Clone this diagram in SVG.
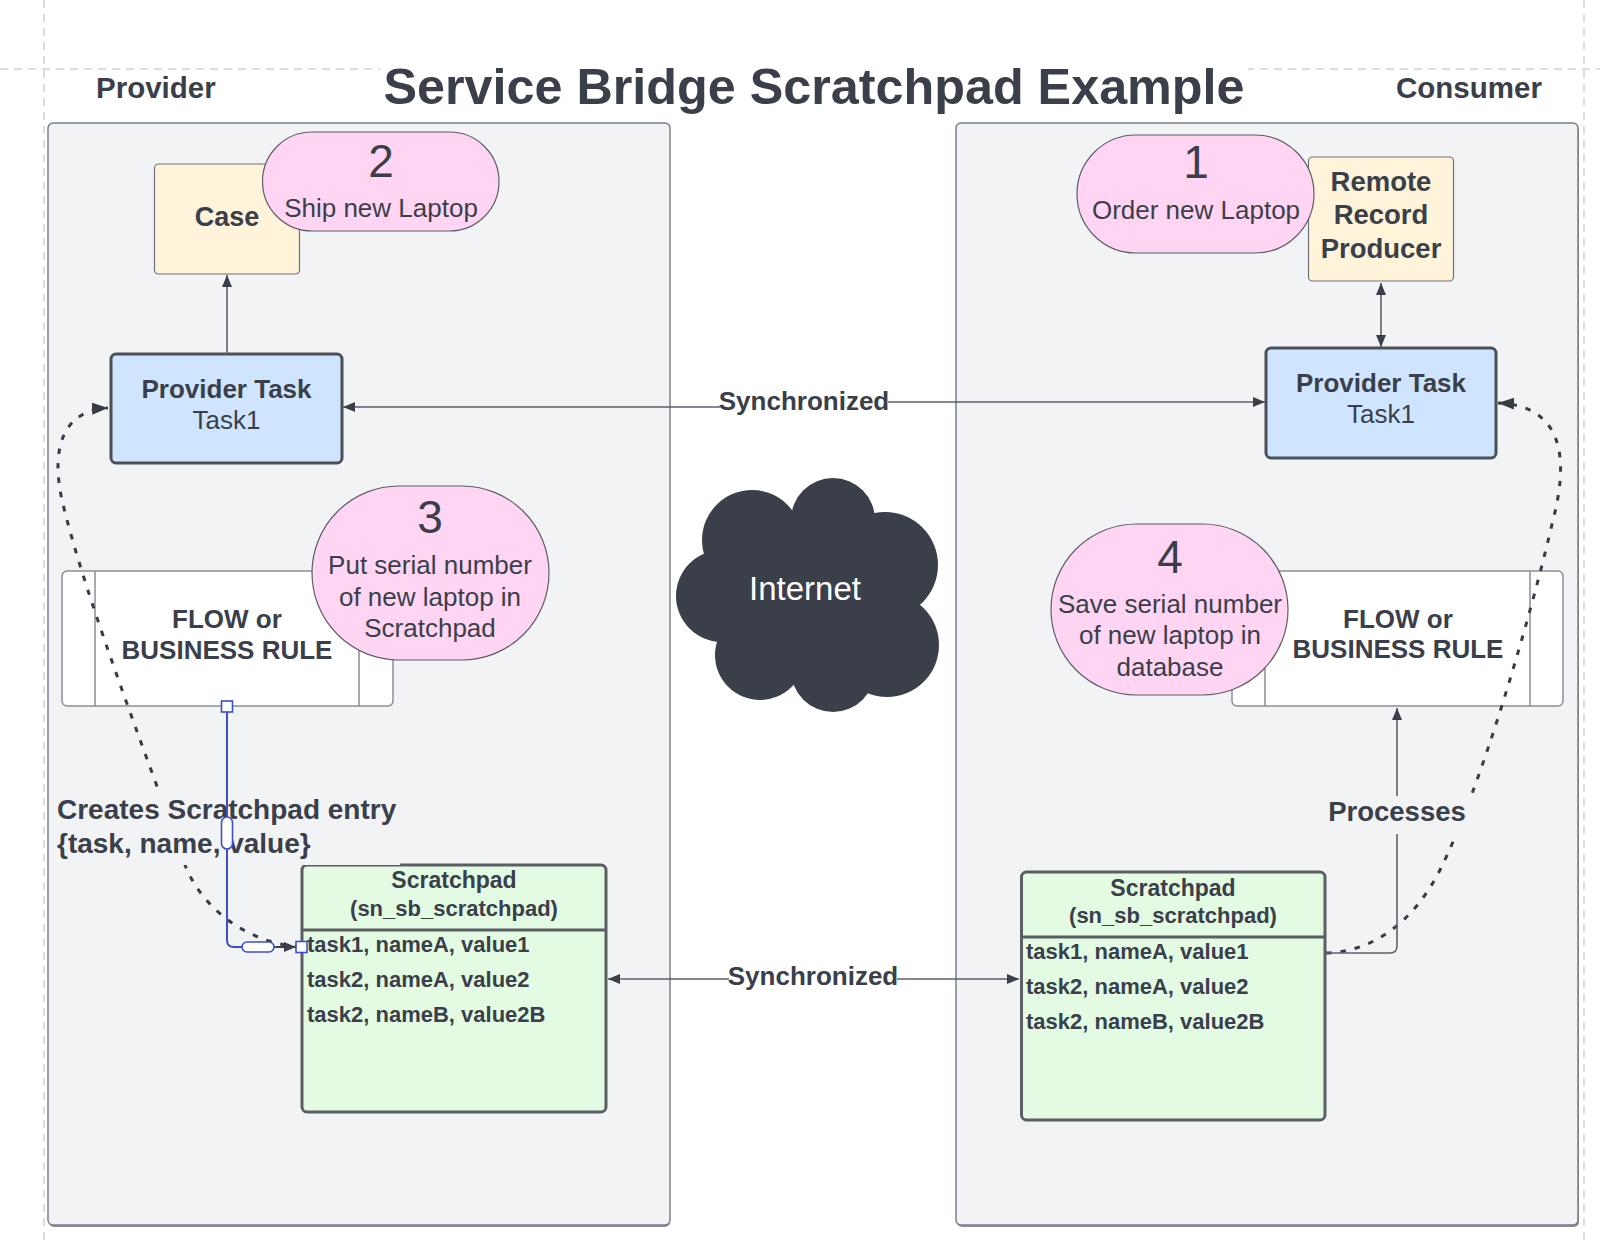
<svg xmlns="http://www.w3.org/2000/svg" width="1600" height="1242" viewBox="0 0 1600 1242">
<defs>
<style>
text{font-family:"Liberation Sans",Arial,sans-serif;fill:#3a3f4a}
.b{font-weight:bold}
.c{text-anchor:middle}
.guide{stroke:#d2d2d2;stroke-width:1.5;stroke-dasharray:8 6;fill:none}
.cont{fill:#f2f3f5;stroke:#7a7f88;stroke-width:1.5}
.cream{fill:#fff3d9;stroke:#6e727a;stroke-width:1.2}
.pink{fill:#ffd5f3;stroke:#5d5f68;stroke-width:1.2}
.task{fill:#cfe5ff;stroke:#4a4f58;stroke-width:3}
.flow{fill:#ffffff;stroke:#8a8e96;stroke-width:1.5}
.sp{fill:#e3fbe3;stroke:#5b5e63;stroke-width:3}
.conn{fill:none;stroke:#5c616b;stroke-width:1.6}
.dot{fill:none;stroke:#363b44;stroke-width:3;stroke-dasharray:5.5 9}
.blue{fill:none;stroke:#3d4fd0;stroke-width:2}
.handle{fill:#ffffff;stroke:#3d4fd0;stroke-width:1.6}
</style>
<marker id="arr" viewBox="0 0 12 10" refX="12" refY="5" markerWidth="12" markerHeight="10" markerUnits="userSpaceOnUse" orient="auto-start-reverse"><path d="M0,0 L12,5 L0,10 z" fill="#3a3f4a"/></marker>
<marker id="arrD" viewBox="0 0 16 12" refX="16" refY="6" markerWidth="16" markerHeight="12" markerUnits="userSpaceOnUse" orient="auto"><path d="M0,0 L16,6 L0,12 z" fill="#363b44"/></marker>
</defs>
<rect width="1600" height="1242" fill="#ffffff"/>
<g id="guides">
<line class="guide" x1="44" y1="0" x2="44" y2="1242"/>
<line class="guide" x1="1584" y1="0" x2="1584" y2="1242"/>
<line class="guide" x1="0" y1="69" x2="1600" y2="69"/>
</g>
<g id="title">
<rect x="380" y="58" width="868" height="54" fill="#ffffff"/>
<text class="b c" x="814" y="104" font-size="50.3">Service Bridge Scratchpad Example</text>
</g>
<g id="provider-container">
<rect x="49" y="125" width="621" height="1102" rx="5" fill="#8a8f99"/>
<rect class="cont" x="48" y="123" width="622" height="1102" rx="5"/>
<text class="b" x="96" y="98" font-size="29.5">Provider</text>
</g>
<g id="consumer-container">
<rect x="957" y="125" width="622" height="1102" rx="5" fill="#8a8f99"/>
<rect class="cont" x="956" y="123" width="622" height="1102" rx="5"/>
<text class="b" x="1396" y="98" font-size="29.5">Consumer</text>
</g>
<g id="internet">
<g fill="#3a3f4a">
<circle cx="833" cy="520" r="42"/>
<circle cx="752" cy="540" r="50"/>
<circle cx="885" cy="565" r="53"/>
<circle cx="722" cy="596" r="46"/>
<circle cx="760" cy="655" r="45"/>
<circle cx="833" cy="670" r="42"/>
<circle cx="887" cy="645" r="52"/>
<ellipse cx="810" cy="595" rx="95" ry="82"/>
</g>
<text class="c" x="805" y="600" font-size="33" style="fill:#ffffff">Internet</text>
</g>
<g id="case">
<rect class="cream" x="154.5" y="164" width="145" height="110" rx="4"/>
<text class="b c" x="227" y="226" font-size="27">Case</text>
</g>
<g id="step2">
<rect class="pink" x="262.5" y="132" width="236.5" height="99" rx="49.5"/>
<text class="c" x="381" y="177" font-size="46">2</text>
<text class="c" x="381" y="217" font-size="26">Ship new Laptop</text>
</g>
<g id="rrp">
<rect class="cream" x="1308.5" y="157" width="145" height="124" rx="4"/>
<text class="b c" x="1381" y="191" font-size="27.5">Remote</text>
<text class="b c" x="1381" y="224" font-size="27.5">Record</text>
<text class="b c" x="1381" y="258" font-size="27.5">Producer</text>
</g>
<g id="step1">
<rect class="pink" x="1077" y="135" width="237" height="118" rx="59"/>
<text class="c" x="1196" y="178" font-size="46">1</text>
<text class="c" x="1196" y="219" font-size="26">Order new Laptop</text>
</g>
<g id="provider-task-left">
<rect class="task" x="111" y="354" width="231" height="109" rx="5"/>
<text class="b c" x="226.5" y="398" font-size="26">Provider Task</text>
<text class="c" x="226.5" y="429" font-size="26">Task1</text>
</g>
<g id="provider-task-right">
<rect class="task" x="1266" y="348" width="230" height="110" rx="5"/>
<text class="b c" x="1381" y="392" font-size="26">Provider Task</text>
<text class="c" x="1381" y="423" font-size="26">Task1</text>
</g>
<g id="flow-left">
<rect class="flow" x="62" y="571" width="331" height="135" rx="5"/>
<line class="flow" x1="95" y1="571" x2="95" y2="706"/>
<line class="flow" x1="359" y1="571" x2="359" y2="706"/>
<text class="b c" x="227" y="628" font-size="26">FLOW or</text>
<text class="b c" x="227" y="659" font-size="26">BUSINESS RULE</text>
</g>
<g id="flow-right">
<rect class="flow" x="1232" y="571" width="331" height="135" rx="5"/>
<line class="flow" x1="1265" y1="571" x2="1265" y2="706"/>
<line class="flow" x1="1530" y1="571" x2="1530" y2="706"/>
<text class="b c" x="1398" y="628" font-size="26">FLOW or</text>
<text class="b c" x="1398" y="658" font-size="26">BUSINESS RULE</text>
</g>
<g id="step3">
<rect class="pink" x="312" y="486" width="237" height="174" rx="87"/>
<text class="c" x="430" y="533" font-size="46">3</text>
<text class="c" x="430" y="574" font-size="26">Put serial number</text>
<text class="c" x="430" y="606" font-size="26">of new laptop in</text>
<text class="c" x="430" y="637" font-size="26">Scratchpad</text>
</g>
<g id="step4">
<rect class="pink" x="1051" y="524" width="237" height="171" rx="85.5"/>
<text class="c" x="1170" y="573" font-size="46">4</text>
<text class="c" x="1170" y="613" font-size="26">Save serial number</text>
<text class="c" x="1170" y="644" font-size="26">of new laptop in</text>
<text class="c" x="1170" y="676" font-size="26">database</text>
</g>
<g id="scratchpad-left">
<rect class="sp" x="302" y="865" width="304" height="247" rx="5"/>
<line class="sp" x1="302" y1="930" x2="606" y2="930"/>
<text class="b c" x="454" y="888" font-size="23">Scratchpad</text>
<text class="b c" x="454" y="916" font-size="22">(sn_sb_scratchpad)</text>
<text class="b" x="307" y="952" font-size="22">task1, nameA, value1</text>
<text class="b" x="307" y="987" font-size="22">task2, nameA, value2</text>
<text class="b" x="307" y="1022" font-size="22">task2, nameB, value2B</text>
</g>
<g id="scratchpad-right">
<rect class="sp" x="1021.5" y="872" width="303.5" height="248" rx="5"/>
<line class="sp" x1="1021.5" y1="937" x2="1325" y2="937"/>
<text class="b c" x="1173" y="896" font-size="23">Scratchpad</text>
<text class="b c" x="1173" y="923" font-size="22">(sn_sb_scratchpad)</text>
<text class="b" x="1026" y="959" font-size="22">task1, nameA, value1</text>
<text class="b" x="1026" y="994" font-size="22">task2, nameA, value2</text>
<text class="b" x="1026" y="1029" font-size="22">task2, nameB, value2B</text>
</g>
<g id="connectors">
<line class="conn" x1="227" y1="354" x2="227" y2="275" marker-end="url(#arr)"/>
<line class="conn" x1="1381" y1="283" x2="1381" y2="347" marker-start="url(#arr)" marker-end="url(#arr)"/>
<line class="conn" x1="720" y1="407" x2="343" y2="407" marker-end="url(#arr)"/>
<line class="conn" x1="888" y1="402" x2="1265" y2="402" marker-end="url(#arr)"/>
<text class="b c" x="804" y="410" font-size="26">Synchronized</text>
<line class="conn" x1="729" y1="979" x2="608" y2="979" marker-end="url(#arr)"/>
<line class="conn" x1="897" y1="979" x2="1019" y2="979" marker-end="url(#arr)"/>
<text class="b c" x="813" y="985" font-size="26">Synchronized</text>
<path class="dot" d="M300,947 C255,944 205,915 185,865 C160,790 85,600 62,500 C50,445 65,410 108,408" marker-end="url(#arrD)"/>
<path class="dot" d="M1326,953 C1370,952 1412,925 1440,870 C1480,790 1530,620 1553,520 C1574,440 1550,405 1498,403" marker-end="url(#arrD)"/>
<path class="conn" d="M1325,953 H1390 Q1397,953 1397,946 V708" marker-end="url(#arr)"/>
<rect x="1322" y="796" width="152" height="38" fill="#f2f3f5"/>
<text class="b c" x="1397" y="821" font-size="27.5">Processes</text>
<rect x="54" y="794" width="346" height="71" fill="#f2f3f5"/>
<text class="b" x="57" y="819" font-size="28">Creates Scratchpad entry</text>
<text class="b" x="57" y="853" font-size="28">{task, name, value}</text>
<path class="blue" d="M227,712 V940 Q227,947 234,947 H278"/>
<line x1="276" y1="947" x2="296" y2="947" stroke="#3a3f4a" stroke-width="2" marker-end="url(#arr)"/>
<rect class="handle" x="221.5" y="701" width="11" height="11"/>
<rect class="handle" x="221.5" y="817" width="11" height="32" rx="5.5"/>
<rect class="handle" x="242" y="942" width="32" height="10" rx="5"/>
<rect class="handle" x="296" y="941.5" width="11" height="11"/>
</g>
</svg>
